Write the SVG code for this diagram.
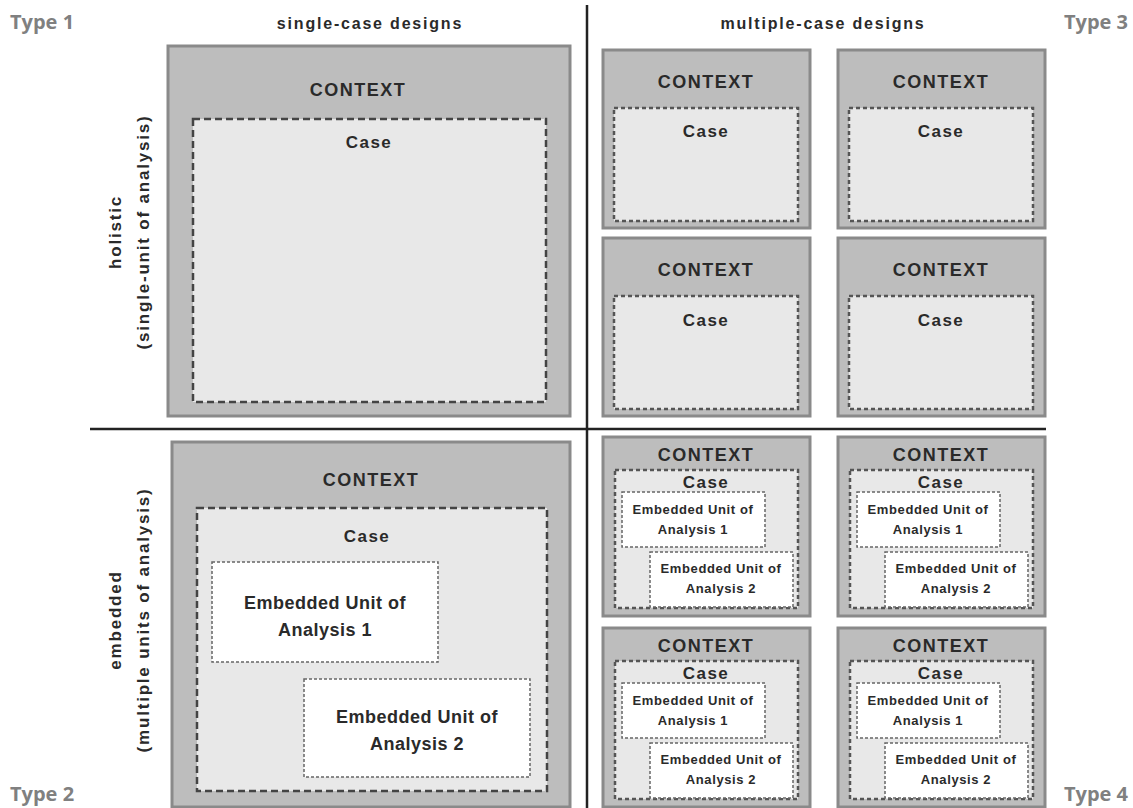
<svg xmlns="http://www.w3.org/2000/svg" width="1133" height="808" viewBox="0 0 1133 808">
<style>
.ctx{fill:#bdbdbd;stroke:#8a8a8a;stroke-width:3}
.case{fill:#e8e8e8;stroke:#444;stroke-width:2.5;stroke-dasharray:7 4}
.cases{fill:#e8e8e8;stroke:#555;stroke-width:2.5;stroke-dasharray:4 3}
.emb{fill:#fff;stroke:#666;stroke-width:1.5;stroke-dasharray:3 2}
.t{font-family:"Liberation Sans",Arial,sans-serif;font-weight:bold;fill:#2a2a2a;text-anchor:middle}
.c{font-size:18px;letter-spacing:1.5px}
.cs{font-size:17px;letter-spacing:1.5px}
.eb{font-size:18px;letter-spacing:0.5px}
.es{font-size:13px;letter-spacing:0.6px}
.side{font-size:17px;letter-spacing:1.8px}
.hd{font-size:16px;letter-spacing:1.8px}
.type{font-family:"Open Sans","Liberation Sans",sans-serif;font-weight:bold;fill:#808080;font-size:20px}
.div{stroke:#222;stroke-width:2.5}
</style>
<g id="dividers">
<line class="div" x1="587" y1="5" x2="587" y2="808"/>
<line class="div" x1="90" y1="429" x2="1046" y2="429"/>
</g>
<g id="labels">
<text class="type" x="10" y="29">Type 1</text>
<text class="type" x="1128" y="29" text-anchor="end">Type 3</text>
<text class="type" x="10" y="801">Type 2</text>
<text class="type" x="1128" y="801" text-anchor="end">Type 4</text>
<text class="t hd" x="370" y="29">single-case designs</text>
<text class="t hd" x="823" y="29">multiple-case designs</text>
<text class="t side" transform="translate(121,232) rotate(-90)">holistic</text>
<text class="t side" transform="translate(149,232) rotate(-90)">(single-unit of analysis)</text>
<text class="t side" transform="translate(121,620) rotate(-90)">embedded</text>
<text class="t side" transform="translate(149,620) rotate(-90)">(multiple units of analysis)</text>
</g>
<g id="type1">
<rect class="ctx" x="168" y="46" width="402" height="370"/>
<text class="t c" x="358" y="96">CONTEXT</text>
<rect class="case" x="193" y="119" width="353" height="283"/>
<text class="t cs" x="369" y="148">Case</text>
</g>
<g id="type3-a">
<rect class="ctx" x="603" y="50" width="207" height="178"/>
<text class="t c" x="706" y="88">CONTEXT</text>
<rect class="cases" x="614" y="108" width="184" height="113"/>
<text class="t cs" x="706" y="137">Case</text>
</g>
<g id="type3-b">
<rect class="ctx" x="838" y="50" width="207" height="178"/>
<text class="t c" x="941" y="88">CONTEXT</text>
<rect class="cases" x="849" y="108" width="184" height="113"/>
<text class="t cs" x="941" y="137">Case</text>
</g>
<g id="type3-c">
<rect class="ctx" x="603" y="238" width="207" height="178"/>
<text class="t c" x="706" y="276">CONTEXT</text>
<rect class="cases" x="614" y="296" width="184" height="113"/>
<text class="t cs" x="706" y="326">Case</text>
</g>
<g id="type3-d">
<rect class="ctx" x="838" y="238" width="207" height="178"/>
<text class="t c" x="941" y="276">CONTEXT</text>
<rect class="cases" x="849" y="296" width="184" height="113"/>
<text class="t cs" x="941" y="326">Case</text>
</g>
<g id="type2">
<rect class="ctx" x="172" y="442" width="398" height="365"/>
<text class="t c" x="371" y="486">CONTEXT</text>
<rect class="case" x="197" y="508" width="350" height="283"/>
<text class="t cs" x="367" y="542">Case</text>
<rect class="emb" x="212" y="562" width="226" height="100"/>
<text class="t eb" x="325" y="609">Embedded Unit of</text>
<text class="t eb" x="325" y="636">Analysis 1</text>
<rect class="emb" x="304" y="679" width="226" height="98"/>
<text class="t eb" x="417" y="723">Embedded Unit of</text>
<text class="t eb" x="417" y="750">Analysis 2</text>
</g>
<g id="type4-a" transform="translate(603,437)">
<rect class="ctx" x="0" y="0" width="207" height="179"/>
<text class="t c" x="103" y="24">CONTEXT</text>
<rect class="cases" x="12" y="33" width="183" height="138"/>
<text class="t cs" x="103" y="51">Case</text>
<rect class="emb" x="19" y="55" width="143" height="55"/>
<text class="t es" x="90" y="77">Embedded Unit of</text>
<text class="t es" x="90" y="97">Analysis 1</text>
<rect class="emb" x="47" y="115" width="143" height="55"/>
<text class="t es" x="118" y="136">Embedded Unit of</text>
<text class="t es" x="118" y="156">Analysis 2</text>
</g>
<g id="type4-b" transform="translate(838,437)">
<rect class="ctx" x="0" y="0" width="207" height="179"/>
<text class="t c" x="103" y="24">CONTEXT</text>
<rect class="cases" x="12" y="33" width="183" height="138"/>
<text class="t cs" x="103" y="51">Case</text>
<rect class="emb" x="19" y="55" width="143" height="55"/>
<text class="t es" x="90" y="77">Embedded Unit of</text>
<text class="t es" x="90" y="97">Analysis 1</text>
<rect class="emb" x="47" y="115" width="143" height="55"/>
<text class="t es" x="118" y="136">Embedded Unit of</text>
<text class="t es" x="118" y="156">Analysis 2</text>
</g>
<g id="type4-c" transform="translate(603,628)">
<rect class="ctx" x="0" y="0" width="207" height="179"/>
<text class="t c" x="103" y="24">CONTEXT</text>
<rect class="cases" x="12" y="33" width="183" height="138"/>
<text class="t cs" x="103" y="51">Case</text>
<rect class="emb" x="19" y="55" width="143" height="55"/>
<text class="t es" x="90" y="77">Embedded Unit of</text>
<text class="t es" x="90" y="97">Analysis 1</text>
<rect class="emb" x="47" y="115" width="143" height="55"/>
<text class="t es" x="118" y="136">Embedded Unit of</text>
<text class="t es" x="118" y="156">Analysis 2</text>
</g>
<g id="type4-d" transform="translate(838,628)">
<rect class="ctx" x="0" y="0" width="207" height="179"/>
<text class="t c" x="103" y="24">CONTEXT</text>
<rect class="cases" x="12" y="33" width="183" height="138"/>
<text class="t cs" x="103" y="51">Case</text>
<rect class="emb" x="19" y="55" width="143" height="55"/>
<text class="t es" x="90" y="77">Embedded Unit of</text>
<text class="t es" x="90" y="97">Analysis 1</text>
<rect class="emb" x="47" y="115" width="143" height="55"/>
<text class="t es" x="118" y="136">Embedded Unit of</text>
<text class="t es" x="118" y="156">Analysis 2</text>
</g>
</svg>
